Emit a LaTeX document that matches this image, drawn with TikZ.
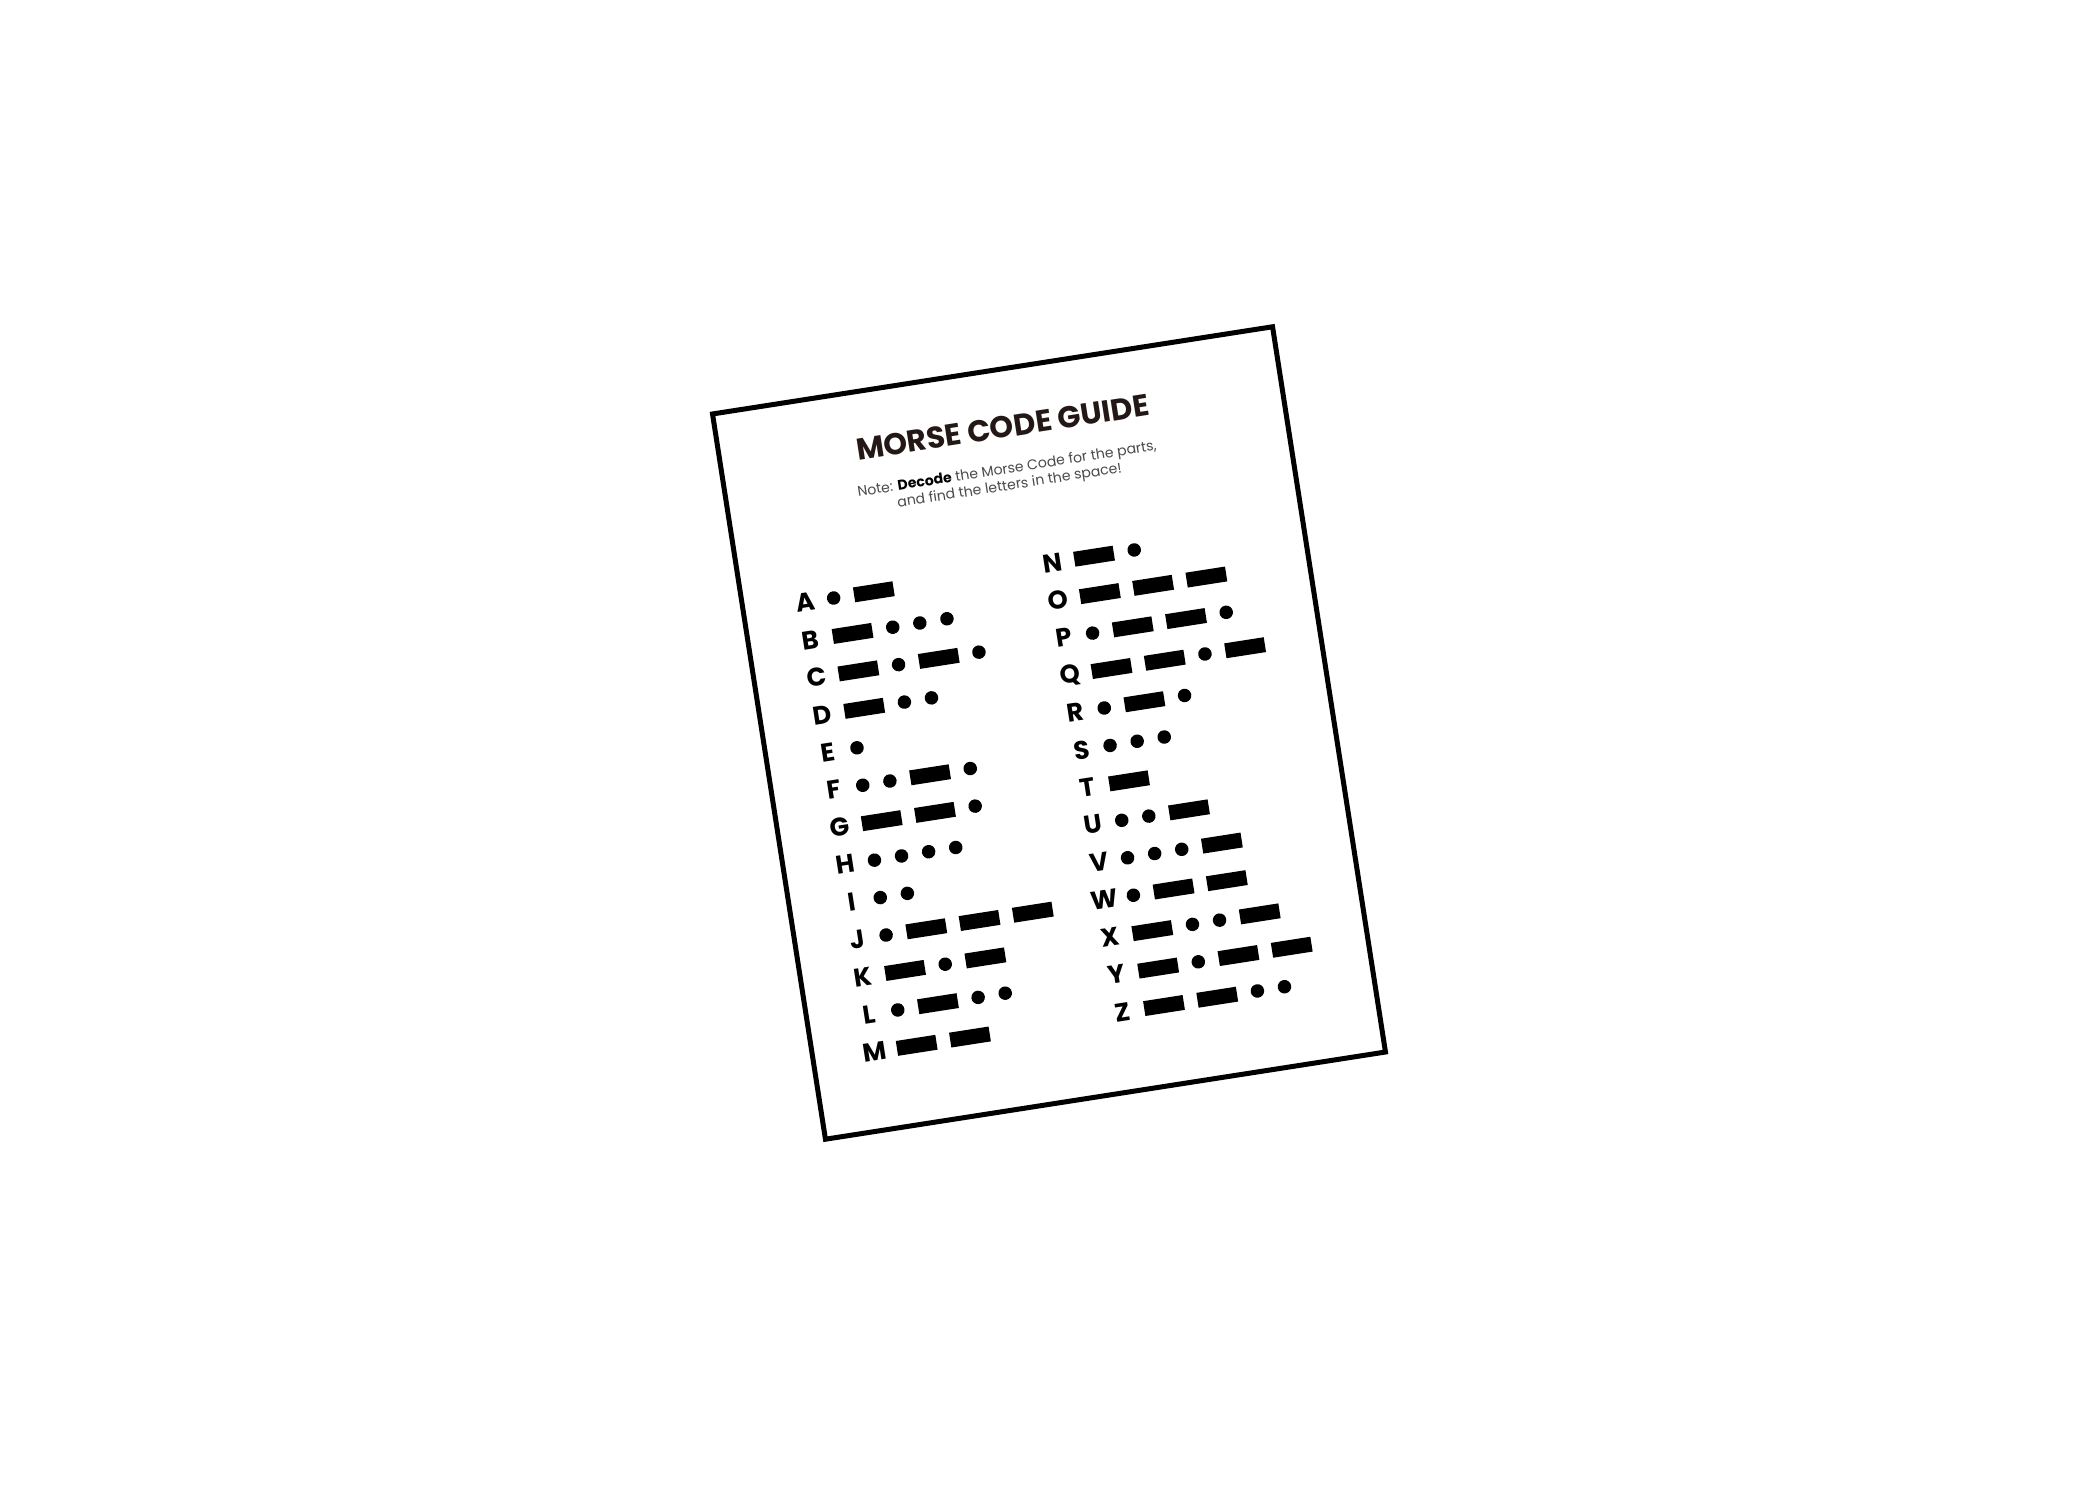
\documentclass[tikz,border=0pt]{standalone}
\usepackage{fontspec}
\newfontfamily\guidefont{Poppins}
\usetikzlibrary{positioning}
\definecolor{inkdark}{HTML}{231815}
\definecolor{notegray}{HTML}{4A4A4A}

\begin{document}
\begin{tikzpicture}[
    dit/.style={circle, fill=black, inner sep=0pt, minimum size=0.135cm},
    dah/.style={rectangle, fill=black, inner sep=0pt, minimum width=0.4cm, minimum height=0.15cm},
    letter/.style={font=\guidefont\bfseries\fontsize{7.3}{8}\selectfont, inner sep=0pt}]
    \fill[white] (0,0) rectangle (21,15);
    \useasboundingbox (0,0) rectangle (21,15);
    \begin{scope}[shift={(10.49,7.67)}, rotate=8.85, transform shape]
    \draw[line width=0.05cm] (-2.834,-3.67) rectangle (2.834,3.67);
    \node[letter, font=\guidefont\bfseries\fontsize{8.6}{9}\selectfont, text=inkdark] (title) at (0.01,3.09) {MORSE CODE GUIDE};
    \node[font=\guidefont\fontsize{4}{4.75}\selectfont, text=notegray, align=center, inner sep=0pt] (note) at (-0.01,2.58) {Note: \textcolor{black}{\bfseries Decode} the Morse Code for the parts,\\and find the letters in the space!};
    % left column
    \foreach \l/\c [count=\r] in {A/{dit,dah}, B/{dah,dit,dit,dit}, C/{dah,dit,dah,dit}, D/{dah,dit,dit}, E/{dit}, F/{dit,dit,dah,dit}, G/{dah,dah,dit}, H/{dit,dit,dit,dit}, I/{dit,dit}, J/{dit,dah,dah,dah}, K/{dah,dit,dah}, L/{dit,dah,dit,dit}, M/{dah,dah}}
    {\node[letter] (\l) at (-2.21,{1.665-0.379*(\r-1)}) {\l};
    \foreach \e [count=\k] in \c
    {\pgfmathtruncatemacro{\p}{\k - 1}
    \ifnum\k=1 \node[\e, right=0.215cm of \l.center] (\l\k) {};
    \else \node[\e, right=0.125cm of \l\p.east] (\l\k) {}; \fi}}
    % right column
    \foreach \l/\c [count=\r] in {N/{dah,dit}, O/{dah,dah,dah}, P/{dit,dah,dah,dit}, Q/{dah,dah,dit,dah}, R/{dit,dah,dit}, S/{dit,dit,dit}, T/{dah}, U/{dit,dit,dah}, V/{dit,dit,dit,dah}, W/{dit,dah,dah}, X/{dah,dit,dit,dah}, Y/{dah,dit,dah,dah}, Z/{dah,dah,dit,dit}}
    {\node[letter] (\l) at (0.295,{1.678-0.379*(\r-1)}) {\l};
    \foreach \e [count=\k] in \c
    {\pgfmathtruncatemacro{\p}{\k - 1}
    \ifnum\k=1 \node[\e, right=0.215cm of \l.center] (\l\k) {};
    \else \node[\e, right=0.125cm of \l\p.east] (\l\k) {}; \fi}}
    \end{scope}
\end{tikzpicture}
\end{document}
